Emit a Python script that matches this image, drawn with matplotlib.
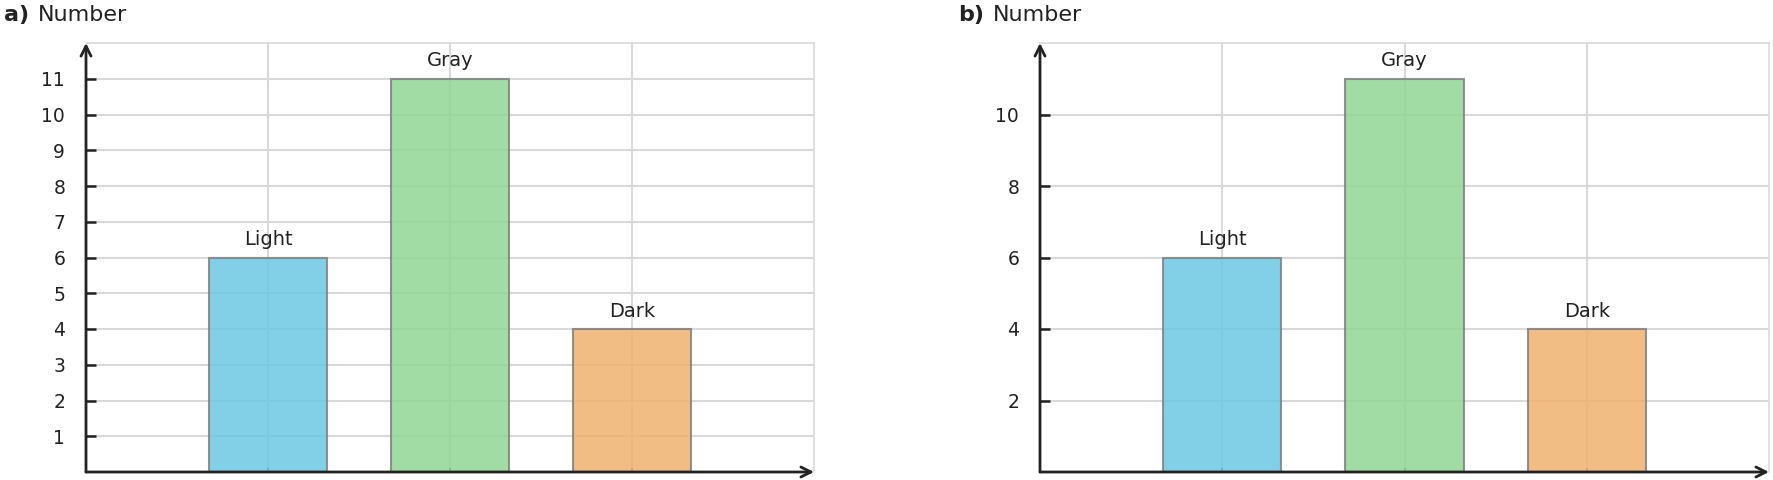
import matplotlib
matplotlib.use("Agg")
import matplotlib.pyplot as plt

categories = ["Light", "Gray", "Dark"]
counts = [6, 11, 4]
bar_colors = ["#6cc7e4", "#8fd694", "#f0b270"]
panel_letters = ["a)", "b)"]
panel_titles = ["Number", "Number"]
yticks_a = list(range(1, 12))
yticks_b = [2, 4, 6, 8, 10]

GRID = "#d9d9d9"
INK = "#222222"

fig = plt.figure(figsize=(17.73, 4.8), dpi=100)
ax_a = fig.add_axes([86 / 1773, 8 / 480, 728 / 1773, 429 / 480])
ax_b = fig.add_axes([1040 / 1773, 8 / 480, 729 / 1773, 429 / 480])


def draw_panel(ax, letter, title, yticks):
    x = list(range(1, len(categories) + 1))
    bars = ax.bar(x, counts, width=0.65, color=bar_colors, alpha=0.85,
                  edgecolor="#808080", linewidth=1.5, zorder=1)
    ax.bar_label(bars, labels=categories, padding=6, fontsize=14, color=INK)

    ax.set_xlim(0, 4)
    ax.set_ylim(0, 12)
    ax.set_xticks(x)
    ax.set_xticklabels([])
    ax.set_yticks(yticks)
    ax.set_axisbelow(True)
    ax.grid(True, color=GRID, linewidth=1.5)
    ax.tick_params(axis="y", direction="in", length=7, width=1.8,
                   color=INK, labelsize=13.5, labelcolor=INK, pad=15)
    ax.tick_params(axis="x", direction="in", length=3, width=1.5, color="#555555")

    for side in ("left", "bottom"):
        ax.spines[side].set_visible(False)
    for side in ("top", "right"):
        ax.spines[side].set_color(GRID)
        ax.spines[side].set_linewidth(1.2)

    arrow = dict(arrowstyle="->", lw=2, color=INK, mutation_scale=18,
                 shrinkA=0, shrinkB=0)
    ax.annotate("", xy=(0, 1), xytext=(0, 0), xycoords="axes fraction",
                arrowprops=arrow)
    ax.annotate("", xy=(1, 0), xytext=(0, 0), xycoords="axes fraction",
                arrowprops=arrow)

    t = ax.annotate(letter, xy=(0, 1), xycoords="axes fraction",
                    xytext=(-59, 16), textcoords="offset points",
                    fontsize=16, fontweight="bold", color=INK, va="baseline")
    ax.annotate(title, xy=(1, 0), xycoords=t, xytext=(6, 0),
                textcoords="offset points", fontsize=16, color=INK,
                va="bottom")


draw_panel(ax_a, panel_letters[0], panel_titles[0], yticks_a)
draw_panel(ax_b, panel_letters[1], panel_titles[1], yticks_b)

fig.savefig("out.png", dpi=100)
